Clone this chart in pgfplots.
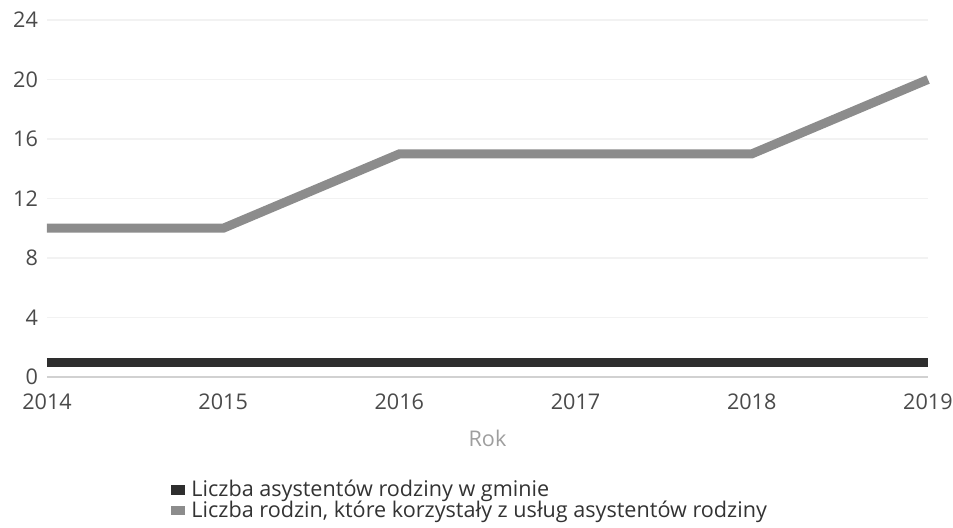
\documentclass[border=0pt]{standalone}
\usepackage{fontspec}
\setmainfont{Open Sans}
\usepackage{pgfplots}
\pgfplotsset{compat=1.18}
\definecolor{darkline}{HTML}{2E2E2E}
\definecolor{grayline}{HTML}{8C8C8C}
\definecolor{ticktext}{HTML}{4A4A4A}
\begin{document}
\begin{tikzpicture}
\begin{axis}[
    scale only axis,
    width=440.5pt, height=178.5pt,
    xmin=2014, xmax=2019,
    ymin=0, ymax=24,
    xtick={2014,...,2019},
    ytick={0,4,...,24},
    axis x line*=bottom,
    axis y line*=left,
    x axis line style={draw=black!18, line width=0.6pt, -},
    y axis line style={draw=none},
    tick style={draw=none},
    ymajorgrids,
    major grid style={draw=black!5, line width=0.6pt},
    clip=false,
    font=\fontsize{10.8}{13}\selectfont,
    tick label style={text=ticktext},
    /pgf/number format/assume math mode=true,
    /pgf/number format/1000 sep={},
    xticklabel style={yshift=-5pt},
    yticklabel style={xshift=-1pt},
    xlabel={Rok},
    xlabel style={text=black!38, yshift=-3pt},
    legend style={at={(0.134,-0.265)}, anchor=north west, draw=none, fill=none,
        font=\fontsize{10.8}{12}\selectfont, text=black!80, row sep=-3.5pt,
        /tikz/every odd column/.append style={column sep=1pt}},
    legend cell align=left,
    legend image code/.code={\fill[#1, draw=none] (0pt,-2.4pt) rectangle (7pt,2.4pt);},
]
\addplot[darkline, line width=4.5pt] coordinates {
  (2014,1) (2015,1) (2016,1) (2017,1) (2018,1) (2019,1)
};
\addplot[grayline, line width=4.5pt] coordinates {
  (2014,10) (2015,10) (2016,15) (2017,15) (2018,15) (2019,20)
};
\legend{Liczba asystentów rodziny w gminie, {Liczba rodzin, które korzystały z usług asystentów rodziny}}
\end{axis}
\pgfresetboundingbox
\path[use as bounding box] ([shift={(-23.5pt,-75.5pt)}]current axis.south west) rectangle ([shift={(12.5pt,10pt)}]current axis.north east);
\end{tikzpicture}
\end{document}
